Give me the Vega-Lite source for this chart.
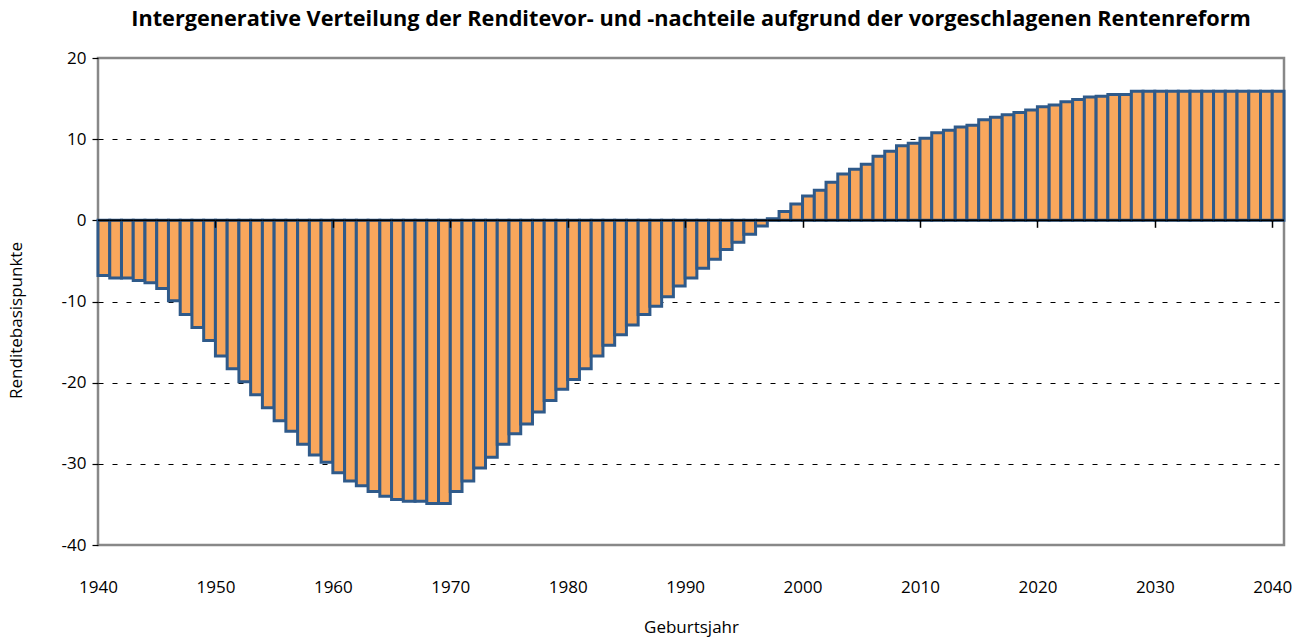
{
  "$schema": "https://vega.github.io/schema/vega-lite/v6.json",
  "width": 1186,
  "height": 487,
  "autosize": {"type": "none"},
  "padding": {"left": 98, "top": 58, "right": 19, "bottom": 93},
  "background": "white",
  "config": {
    "font": "Open Sans",
    "view": {"stroke": "#888888", "strokeWidth": 2.5},
    "axis": {"labelColor": "black", "titleColor": "black", "labelFont": "Open Sans", "titleFont": "Open Sans"}
  },
  "title": {
    "text": "Intergenerative Verteilung der Renditevor- und -nachteile aufgrund der vorgeschlagenen Rentenreform",
    "font": "Open Sans",
    "fontSize": 21.7,
    "fontWeight": "bold",
    "color": "black",
    "anchor": "middle",
    "offset": 18
  },
  "data": {
    "values": [
      {"year": 1940, "value": -6.8}, {"year": 1941, "value": -7.1}, {"year": 1942, "value": -7.1},
      {"year": 1943, "value": -7.4}, {"year": 1944, "value": -7.7}, {"year": 1945, "value": -8.4},
      {"year": 1946, "value": -9.9}, {"year": 1947, "value": -11.6}, {"year": 1948, "value": -13.2},
      {"year": 1949, "value": -14.8}, {"year": 1950, "value": -16.7}, {"year": 1951, "value": -18.3},
      {"year": 1952, "value": -19.9}, {"year": 1953, "value": -21.5}, {"year": 1954, "value": -23.1},
      {"year": 1955, "value": -24.7}, {"year": 1956, "value": -26.0}, {"year": 1957, "value": -27.6},
      {"year": 1958, "value": -28.9}, {"year": 1959, "value": -29.8}, {"year": 1960, "value": -31.1},
      {"year": 1961, "value": -32.1}, {"year": 1962, "value": -32.7}, {"year": 1963, "value": -33.4},
      {"year": 1964, "value": -34.0}, {"year": 1965, "value": -34.4}, {"year": 1966, "value": -34.6},
      {"year": 1967, "value": -34.6}, {"year": 1968, "value": -34.9}, {"year": 1969, "value": -34.9},
      {"year": 1970, "value": -33.4}, {"year": 1971, "value": -32.1}, {"year": 1972, "value": -30.5},
      {"year": 1973, "value": -29.2}, {"year": 1974, "value": -27.6}, {"year": 1975, "value": -26.3},
      {"year": 1976, "value": -25.1}, {"year": 1977, "value": -23.6}, {"year": 1978, "value": -22.2},
      {"year": 1979, "value": -20.8}, {"year": 1980, "value": -19.6}, {"year": 1981, "value": -18.3},
      {"year": 1982, "value": -16.7}, {"year": 1983, "value": -15.4}, {"year": 1984, "value": -14.1},
      {"year": 1985, "value": -12.9}, {"year": 1986, "value": -11.6}, {"year": 1987, "value": -10.6},
      {"year": 1988, "value": -9.4}, {"year": 1989, "value": -8.1}, {"year": 1990, "value": -7.1},
      {"year": 1991, "value": -5.9}, {"year": 1992, "value": -4.8}, {"year": 1993, "value": -3.6},
      {"year": 1994, "value": -2.7}, {"year": 1995, "value": -1.7}, {"year": 1996, "value": -0.7},
      {"year": 1997, "value": 0.2}, {"year": 1998, "value": 1.1}, {"year": 1999, "value": 2.0},
      {"year": 2000, "value": 3.0}, {"year": 2001, "value": 3.7}, {"year": 2002, "value": 4.7},
      {"year": 2003, "value": 5.7}, {"year": 2004, "value": 6.3}, {"year": 2005, "value": 6.9},
      {"year": 2006, "value": 7.9}, {"year": 2007, "value": 8.5}, {"year": 2008, "value": 9.2},
      {"year": 2009, "value": 9.5}, {"year": 2010, "value": 10.1}, {"year": 2011, "value": 10.8},
      {"year": 2012, "value": 11.1}, {"year": 2013, "value": 11.5}, {"year": 2014, "value": 11.7},
      {"year": 2015, "value": 12.4}, {"year": 2016, "value": 12.7}, {"year": 2017, "value": 13.0},
      {"year": 2018, "value": 13.3}, {"year": 2019, "value": 13.6}, {"year": 2020, "value": 14.0},
      {"year": 2021, "value": 14.2}, {"year": 2022, "value": 14.6}, {"year": 2023, "value": 14.9},
      {"year": 2024, "value": 15.2}, {"year": 2025, "value": 15.3}, {"year": 2026, "value": 15.5},
      {"year": 2027, "value": 15.5}, {"year": 2028, "value": 15.9}, {"year": 2029, "value": 15.9},
      {"year": 2030, "value": 15.9}, {"year": 2031, "value": 15.9}, {"year": 2032, "value": 15.9},
      {"year": 2033, "value": 15.9}, {"year": 2034, "value": 15.9}, {"year": 2035, "value": 15.9},
      {"year": 2036, "value": 15.9}, {"year": 2037, "value": 15.9}, {"year": 2038, "value": 15.9},
      {"year": 2039, "value": 15.9}, {"year": 2040, "value": 15.9}
    ]
  },
  "transform": [
    {"bin": {"step": 1, "extent": [1940, 2041]}, "field": "year", "as": ["year_start", "year_end"]}
  ],
  "resolve": {"axis": {"x": "independent"}},
  "layer": [
    {
      "mark": {"type": "bar", "fill": "#F9A75C", "stroke": "#2F5A8A", "strokeWidth": 3, "strokeJoin": "miter"},
      "encoding": {
        "x": {
          "field": "year_start", "type": "quantitative",
          "scale": {"domain": [1940, 2041], "nice": false, "zero": false},
          "axis": {
            "orient": "bottom",
            "values": [1940, 1950, 1960, 1970, 1980, 1990, 2000, 2010, 2020, 2030, 2040],
            "format": "d",
            "domain": false, "ticks": false, "grid": false,
            "labelFontSize": 17, "labelPadding": 34, "labelFlush": false,
            "title": "Geburtsjahr", "titleFontSize": 17, "titleFontWeight": "normal", "titlePadding": 24
          }
        },
        "x2": {"field": "year_end"},
        "y": {
          "field": "value", "type": "quantitative",
          "scale": {"domain": [-40, 20], "nice": false, "zero": false},
          "axis": {
            "values": [20, 10, 0, -10, -20, -30, -40],
            "labelExpr": "datum.value < 0 ? '-' + abs(datum.value) : '' + datum.value",
            "domain": false,
            "ticks": true, "tickColor": "black", "tickSize": 6, "tickWidth": 1.2,
            "labelFontSize": 17, "labelPadding": 6,
            "grid": true, "gridColor": "black", "gridDash": [5, 9], "gridWidth": 1,
            "gridOpacity": {"condition": {"test": "datum.value == 20 || datum.value == -40 || datum.value == 0", "value": 0}, "value": 1},
            "title": "Renditebasispunkte", "titleFontSize": 17, "titleFontWeight": "normal", "titlePadding": 36,
            "titleY": 262
          }
        },
        "y2": {"datum": 0}
      }
    },
    {
      "mark": {"type": "rule", "color": "black", "strokeWidth": 1.8},
      "encoding": {
        "x": {
          "field": "year_start", "type": "quantitative",
          "axis": {
            "orient": "bottom",
            "offset": -324.7,
            "values": [1950, 1960, 1970, 1980, 1990, 2000, 2010, 2020, 2030, 2040],
            "domain": false, "labels": false, "grid": false,
            "ticks": true, "tickColor": "black", "tickSize": 7, "tickWidth": 1.5,
            "title": null, "zindex": 1
          }
        },
        "x2": {"field": "year_end"},
        "y": {"datum": 0}
      }
    }
  ]
}
